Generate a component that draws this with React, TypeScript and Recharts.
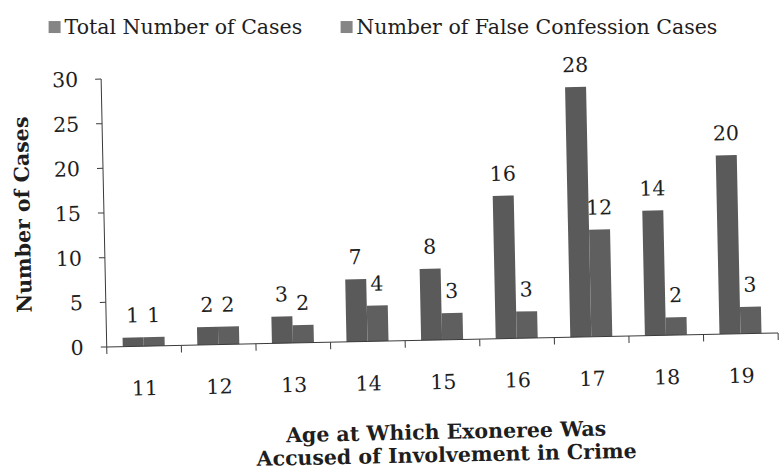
import { BarChart, Bar, XAxis, YAxis, Legend, LabelList } from "recharts";

const ages = ["11", "12", "13", "14", "15", "16", "17", "18", "19"];
const totalCases = [1, 2, 3, 7, 8, 16, 28, 14, 20];
const falseConfessionCases = [1, 2, 2, 4, 3, 3, 12, 2, 3];
const yTicks = [0, 5, 10, 15, 20, 25, 30];

const data = ages.map((age, i) => ({
  age,
  total: totalCases[i],
  falseConf: falseConfessionCases[i],
}));

const W = 780;
const H = 474;
const MARGIN = { top: 73, right: 4, left: 0, bottom: 103 };
const Y_WIDTH = 104.5;
const BAND = (W - MARGIN.left - MARGIN.right - Y_WIDTH) / ages.length;

// the source is a slightly tilted scan
const TILT = -1.2;

const FONT = "'DejaVu Serif', serif";
const FS = 20.5;
const TEXT = "#1e1e1e";
const AXIS = "#3a3a3a";
const BAR_TOTAL = "#5a5a5a";
const BAR_FALSE = "#5f5f5f";
const SWATCH = "#858585";

const AgeTick = (props: any) => {
  const { x, y, payload, index } = props;
  const last = index === ages.length - 1;
  return (
    <g>
      <line x1={x - BAND / 2} y1={y - 8} x2={x - BAND / 2} y2={y - 1} stroke={AXIS} />
      {last && <line x1={x + BAND / 2} y1={y - 8} x2={x + BAND / 2} y2={y - 1} stroke={AXIS} />}
      <text x={x} y={y + 41} textAnchor="middle" fill={TEXT} fontSize={FS} fontFamily={FONT}>
        {payload.value}
      </text>
    </g>
  );
};

const LegendBox = () => (
  <div
    style={{
      display: "flex",
      alignItems: "center",
      height: 24,
      fontFamily: FONT,
      fontSize: FS,
      color: TEXT,
      width: W,
      transform: `rotate(${-TILT}deg)`,
    }}
  >
    <div style={{ display: "flex", alignItems: "center", marginLeft: 53, whiteSpace: "nowrap" }}>
      <span style={{ width: 12, height: 12, background: SWATCH, marginRight: 4 }} />
      Total Number of Cases
    </div>
    <div style={{ display: "flex", alignItems: "center", marginLeft: 38, whiteSpace: "nowrap" }}>
      <span style={{ width: 12, height: 12, background: SWATCH, marginRight: 4 }} />
      Number of False Confession Cases
    </div>
  </div>
);

export default function App() {
  return (
    <div
      style={{
        position: "absolute",
        left: 0,
        top: 0,
        width: W,
        height: H,
        transform: `rotate(${TILT}deg)`,
        transformOrigin: `${W / 2}px ${H / 2}px`,
      }}
    >
      <BarChart width={W} height={H} data={data} margin={MARGIN} barGap={0} barSize={21}>
        <Legend
          layout="horizontal"
          verticalAlign="middle"
          align="center"
          content={<LegendBox />}
          wrapperStyle={{ top: 15, left: 0 }}
        />
        <XAxis
          dataKey="age"
          height={30}
          tickLine={false}
          stroke={AXIS}
          tick={<AgeTick />}
          interval={0}
        />
        <YAxis
          domain={[0, 30]}
          ticks={yTicks}
          width={Y_WIDTH}
          stroke={AXIS}
          tickSize={6}
          tickMargin={17}
          tick={{ fill: TEXT, fontSize: FS, fontFamily: FONT }}
          label={{
            value: "Number of Cases",
            angle: -90,
            position: "insideLeft",
            offset: 23,
            style: { textAnchor: "middle", fill: TEXT, fontSize: FS, fontWeight: "bold", fontFamily: FONT },
          }}
        />
        <Bar dataKey="total" fill={BAR_TOTAL} isAnimationActive={false}>
          <LabelList dataKey="total" position="top" offset={15} fill={TEXT} fontSize={FS} fontFamily={FONT} />
        </Bar>
        <Bar dataKey="falseConf" fill={BAR_FALSE} isAnimationActive={false}>
          <LabelList dataKey="falseConf" position="top" offset={15} fill={TEXT} fontSize={FS} fontFamily={FONT} />
        </Bar>
        <text x={442} y={440} textAnchor="middle" fill={TEXT} fontSize={FS} fontWeight="bold" fontFamily={FONT}>
          Age at Which Exoneree Was
        </text>
        <text x={442} y={463} textAnchor="middle" fill={TEXT} fontSize={FS} fontWeight="bold" fontFamily={FONT}>
          Accused of Involvement in Crime
        </text>
      </BarChart>
    </div>
  );
}
